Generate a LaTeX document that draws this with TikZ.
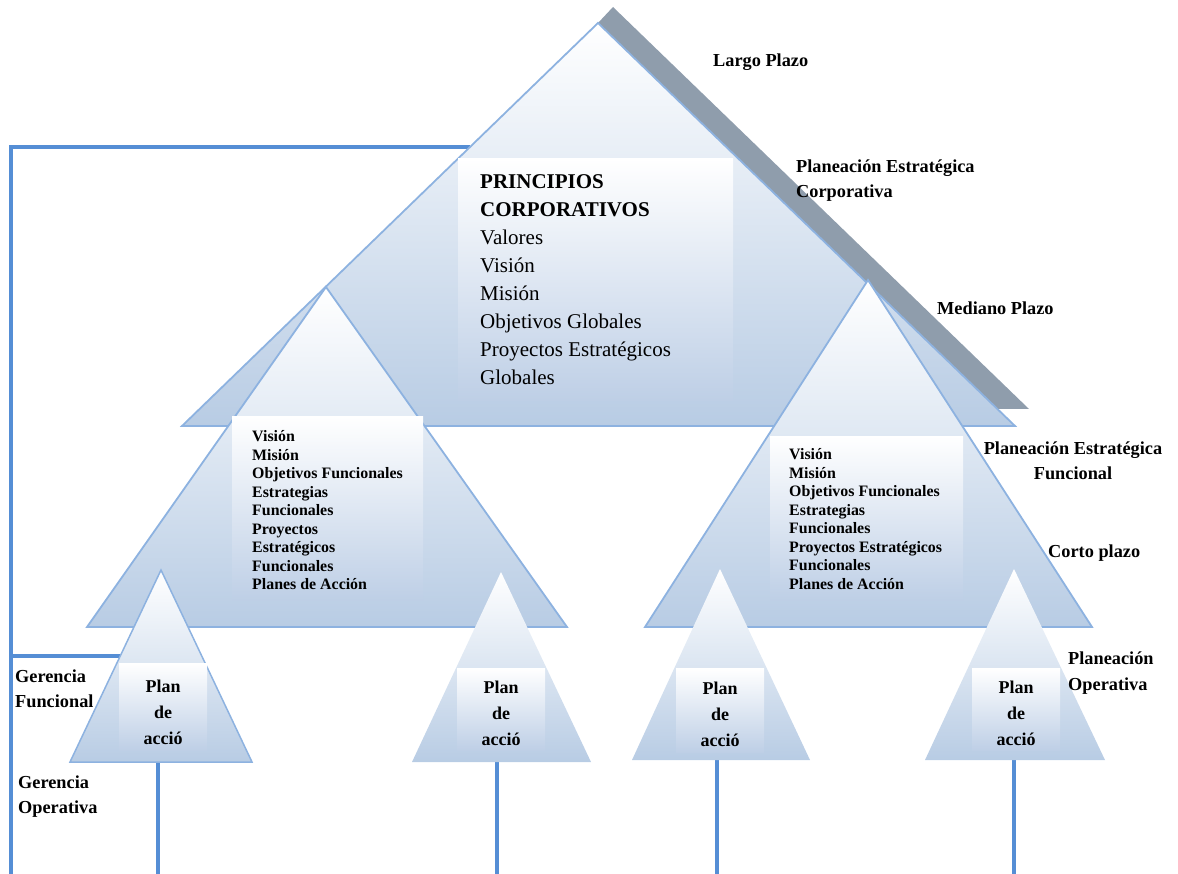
\documentclass[tikz,border=0pt]{standalone}
\usepackage{fontspec}
\setmainfont{Liberation Serif}
\definecolor{lineblue}{RGB}{85,142,213}
\definecolor{edgeblue}{RGB}{141,178,224}
\definecolor{fillblue}{RGB}{184,204,228}
\definecolor{boxblue}{RGB}{190,207,230}
\definecolor{bandgray}{RGB}{143,157,172}
\begin{document}
\begin{tikzpicture}[x=1pt,y=-1pt,
  tri/.style={draw=edgeblue, line width=1.8pt, line join=miter, top color=white, bottom color=fillblue},
  plaintri/.style={top color=white, bottom color=fillblue},
  conn/.style={draw=lineblue, line width=3.3pt, line join=miter},
  lbl/.style={font=\bfseries\fontsize{18.3}{25.5}\selectfont, inner sep=0pt},
  shbox/.style={top color=white, bottom color=boxblue, inner sep=0pt, anchor=north west},
  midtxt/.style={font=\bfseries\fontsize{15.9}{18.5}\selectfont, align=left, inner sep=0pt, anchor=west},
  plantxt/.style={font=\bfseries\fontsize{18}{26}\selectfont, align=center, inner sep=0pt}]
\useasboundingbox (0,0) rectangle (1178,874);

% vertices of the pyramid levels
\coordinate (bigA) at (598,23);
\coordinate (bigL) at (182,426);
\coordinate (bigR) at (1015,426);
\coordinate (lmA) at (326,287);
\coordinate (lmL) at (87,627);
\coordinate (lmR) at (567,627);
\coordinate (rmA) at (868,280);
\coordinate (rmL) at (645,627);
\coordinate (rmR) at (1092,627);

% management bracket on the left
\coordinate (hookA) at (470,147);
\coordinate (cTop) at (11,147);
\coordinate (cMid) at (11,656);
\coordinate (cBot) at (11,874);
\coordinate (hookB) at (121,656);
\draw[conn] (hookA) -- (cTop) -- (cBot);
\draw[conn] (cMid) -- (hookB);

% stems under the action plans
\coordinate (s1) at (158,760);  \coordinate (e1) at (158,874);
\coordinate (s2) at (497,760);  \coordinate (e2) at (497,874);
\coordinate (s3) at (717,758);  \coordinate (e3) at (717,874);
\coordinate (s4) at (1014,758); \coordinate (e4) at (1014,874);
\draw[conn] (s1) -- (e1);
\draw[conn] (s2) -- (e2);
\draw[conn] (s3) -- (e3);
\draw[conn] (s4) -- (e4);

% time band along the top level
\fill[bandgray] (598,23) -- (613,7) -- (1029,409) -- (997,409) -- cycle;

% corporate level
\path[tri] (bigA) -- (bigR) -- (bigL) -- cycle;
\node[shbox, minimum width=275pt, minimum height=242pt] (corpbox) at (458,158) {};
\node[font=\fontsize{21}{28}\selectfont, align=left, inner sep=0pt, anchor=west] (corptxt)
  at ([xshift=22pt]corpbox.west)
  {\textbf{PRINCIPIOS}\\\textbf{CORPORATIVOS}\\Valores\\Visión\\Misión\\Objetivos Globales\\Proyectos Estratégicos\\Globales};

% functional level
\path[tri] (lmA) -- (lmR) -- (lmL) -- cycle;
\node[shbox, minimum width=191pt, minimum height=184pt] (lbox) at (232,416) {};
\node[midtxt] (ltxt) at ([xshift=20pt,yshift=-2pt]lbox.west)
  {Visión\\Misión\\Objetivos Funcionales\\Estrategias\\Funcionales\\Proyectos\\Estratégicos\\Funcionales\\Planes de Acción};

\path[tri] (rmA) -- (rmR) -- (rmL) -- cycle;
\node[shbox, minimum width=193pt, minimum height=164pt] (rbox) at (770,436) {};
\node[midtxt] (rtxt) at ([xshift=19pt,yshift=-1pt]rbox.west)
  {Visión\\Misión\\Objetivos Funcionales\\Estrategias\\Funcionales\\Proyectos Estratégicos\\Funcionales\\Planes de Acción};

% operational level
\path[tri, line width=1.5pt] (161,570) -- (252,762) -- (70,762) -- cycle;
\node[shbox, minimum width=88pt, minimum height=87pt] (pb1) at (119,663) {};
\node[plantxt] (pt1) at ([yshift=-6pt]pb1.center) {Plan\\de\\acció};

\path[plaintri] (501,572) -- (591,762) -- (412,762) -- cycle;
\node[shbox, minimum width=88pt, minimum height=82pt] (pb2) at (457,668) {};
\node[plantxt] (pt2) at ([yshift=-4pt]pb2.center) {Plan\\de\\acció};

\path[plaintri] (720,569) -- (810,760) -- (632,760) -- cycle;
\node[shbox, minimum width=88pt, minimum height=84pt] (pb3) at (676,668) {};
\node[plantxt] (pt3) at ([yshift=-4pt]pb3.center) {Plan\\de\\acció};

\path[plaintri] (1014,569) -- (1105,760) -- (925,760) -- cycle;
\node[shbox, minimum width=88pt, minimum height=82pt] (pb4) at (972,668) {};
\node[plantxt] (pt4) at ([yshift=-4pt]pb4.center) {Plan\\de\\acció};

% horizon and planning labels
\node[lbl, anchor=west] (largo) at (713,62) {Largo Plazo};
\node[lbl, anchor=west, align=left] (pecorp) at (796,180.5) {Planeación Estratégica\\Corporativa};
\node[lbl, anchor=west] (mediano) at (937,308) {Mediano Plazo};
\node[lbl, align=center] (pefunc) at (1073,461) {Planeación Estratégica\\Funcional};
\node[lbl, anchor=west] (corto) at (1048,553) {Corto plazo};
\node[lbl, anchor=west, align=left] (peop) at (1068,673) {Planeación\\Operativa};
\node[lbl, anchor=west, align=left] (gfunc) at (15,689) {Gerencia\\Funcional};
\node[lbl, anchor=west, align=left] (gop) at (18,796.5) {Gerencia\\Operativa};
\end{tikzpicture}
\end{document}
